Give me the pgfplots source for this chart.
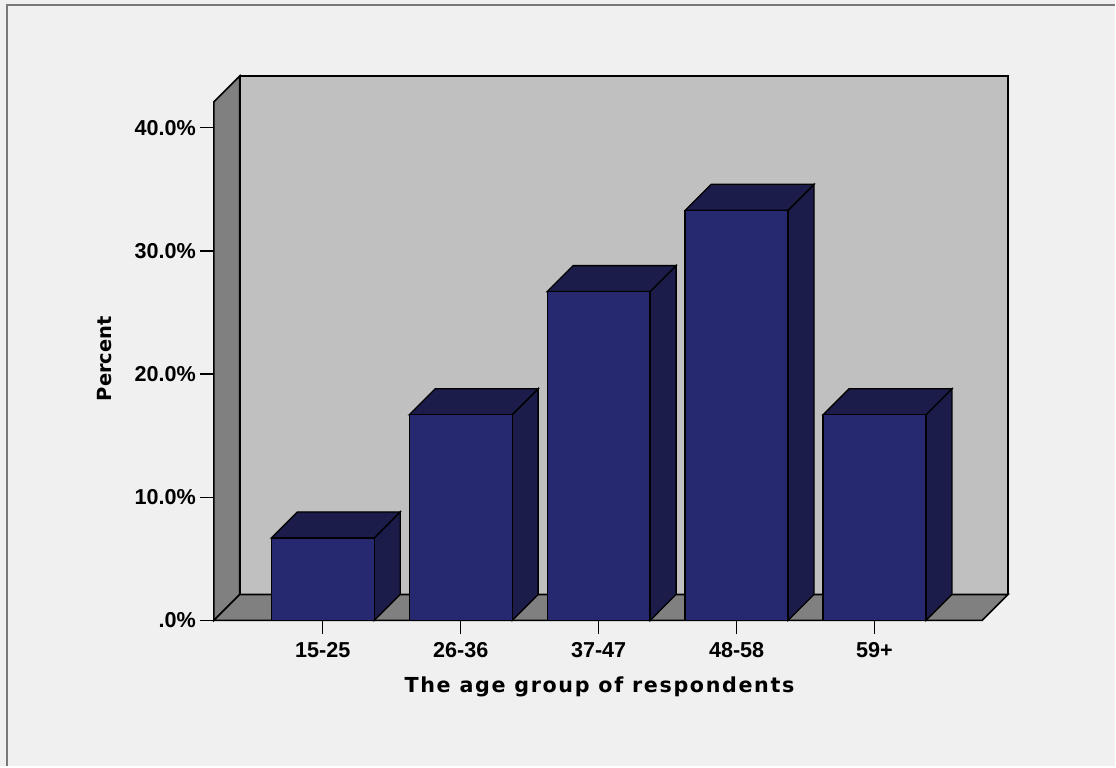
\documentclass[border=0pt]{standalone}
\usepackage{fontspec}
\setmainfont{Liberation Sans}
\newfontfamily\labfont[LetterSpace=8]{DejaVu Sans}
\newfontfamily\ylabfont{DejaVu Sans}
\usepackage{pgfplots}
\pgfplotsset{compat=1.18}
\usepackage{pgfplotstable}

\definecolor{bgcol}{RGB}{240,240,240}
\definecolor{wallback}{RGB}{192,192,192}
\definecolor{wallside}{RGB}{128,128,128}
\definecolor{barfront}{RGB}{39,41,112}
\definecolor{barshade}{RGB}{28,28,74}
\definecolor{framecol}{RGB}{120,120,120}

% share of respondents per age group (%)
\pgfplotstableread{
x v
0 6.7
1 16.7
2 26.7
3 33.3
4 16.7
}\agedata

\begin{document}
\begin{tikzpicture}
% page (1 px = 0.75pt)
\fill[bgcol] (0,0) rectangle (837pt,575.25pt);
\draw[framecol, line width=1.5pt] (5.25pt,0) -- (5.25pt,571.5pt) -- (837pt,571.5pt);

\begin{axis}[
    at={(160.5pt,109.5pt)}, anchor=south west,
    scale only axis,
    width=576.75pt, height=389.25pt,
    xmin=-0.79, xmax=4.78,
    ymin=0, ymax=42.1,
    clip=false,
    axis lines*=left,
    axis line style={draw=none},
    xtick={0,1,2,3,4},
    xticklabels={15-25,26-36,37-47,48-58,59+},
    ytick={0,10,20,30,40},
    yticklabels={.0\%,10.0\%,20.0\%,30.0\%,40.0\%},
    tick align=outside,
    major tick length=10pt,
    tick style={black, line width=1pt},
    ticklabel style={font=\bfseries\fontsize{16.2}{18}\selectfont},
    xticklabel style={yshift=-3pt},
    xlabel={\labfont\bfseries The age group of respondents},
    ylabel={\ylabfont\bfseries\fontsize{14.6}{17}\selectfont Percent},
    label style={font=\fontsize{15.5}{18}\selectfont},
    xlabel style={at={(axis description cs:0.502,0)}, anchor=base, yshift=-54pt},
    ylabel style={at={(axis description cs:-0.1326,0.505)}, anchor=base},
]
% 3D walls
\fill[wallback, draw=black, line width=1.2pt] (-0.6016,2.11) rectangle (4.9684,44.21);
\fill[wallside, draw=black, line width=1.2pt] (-0.79,0) -- (-0.6016,2.11) -- (-0.6016,44.21) -- (-0.79,42.1) -- cycle;
\fill[wallside, draw=black, line width=1.2pt] (-0.79,0) -- (4.78,0) -- (4.9684,2.11) -- (-0.6016,2.11) -- cycle;

% side and top faces of each bar
\pgfplotsinvokeforeach{0,...,4}{
  \pgfplotstablegetelem{#1}{v}\of\agedata
  \pgfmathsetmacro\vb{\pgfplotsretval}
  \pgfmathsetmacro\vt{\vb+2.11}
  \pgfmathsetmacro\xl{#1-0.373}
  \pgfmathsetmacro\xr{#1+0.373}
  \pgfmathsetmacro\xlb{#1-0.373+0.1884}
  \pgfmathsetmacro\xrb{#1+0.373+0.1884}
  \addplot[fill=barshade, draw=black, line width=1pt, mark=none, forget plot]
    coordinates {(\xr,0) (\xrb,2.11) (\xrb,\vt) (\xr,\vb)} -- cycle;
  \addplot[fill=barshade, draw=black, line width=1pt, mark=none, forget plot]
    coordinates {(\xl,\vb) (\xr,\vb) (\xrb,\vt) (\xlb,\vt)} -- cycle;
}

% front faces
\addplot[ybar, bar width=77.25pt, fill=barfront, draw=black, line width=1pt]
  table[x=x, y=v]{\agedata};
\end{axis}
\end{tikzpicture}
\end{document}
